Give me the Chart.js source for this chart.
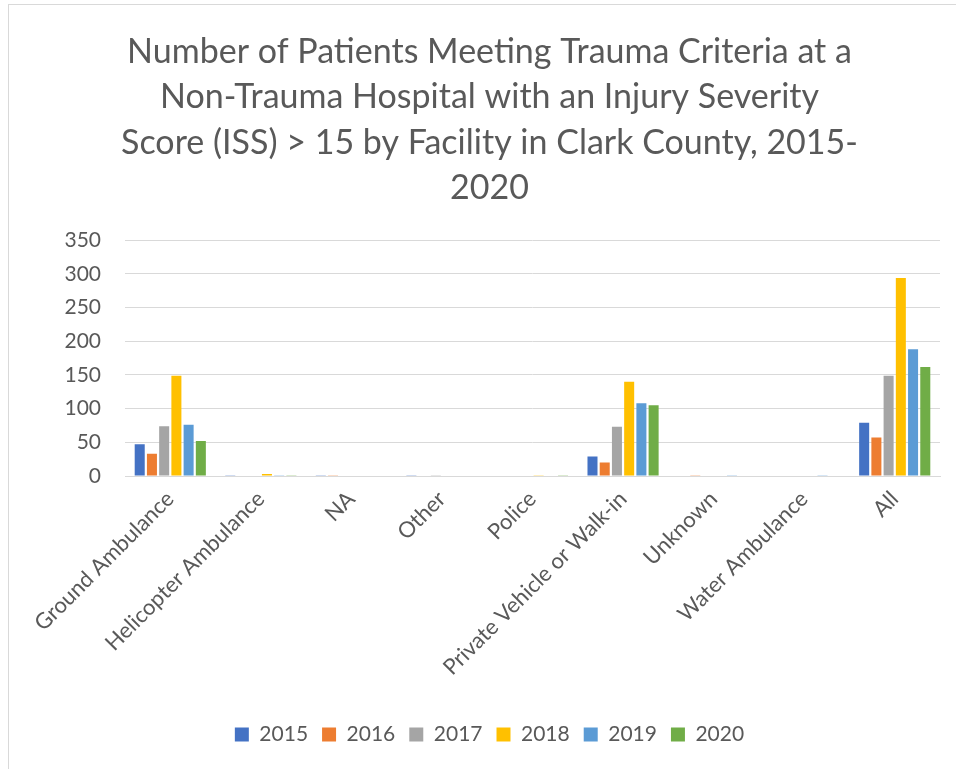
<!DOCTYPE html>
<html>
<head>
<meta charset="utf-8">
<script src="https://cdn.jsdelivr.net/npm/chart.js@4"></script>
<style>
    html, body { margin: 0; padding: 0; overflow: hidden; background: #fff; }
    .frame {
        position: absolute;
        left: 8px;
        top: 4px;
        width: 948px;
        height: 765px;
        border-top: 1px solid #d9d9d9;
        border-left: 1px solid #d9d9d9;
    }
    canvas { display: block; }
</style>
</head>
<body>
<div class="frame"><canvas id="chart" width="947" height="764"></canvas></div>
<script>
const categories = ['Ground Ambulance', 'Helicopter Ambulance', 'NA', 'Other', 'Police',
    'Private Vehicle or Walk-in', 'Unknown', 'Water Ambulance', 'All'];
const years = ['2015', '2016', '2017', '2018', '2019', '2020'];
const values2015 = [47, 1, 1, 1, 0, 29, 0, 0, 79];
const values2016 = [33, 0, 1, 0, 0, 20, 1, 0, 57];
const values2017 = [74, 0, 0, 1, 0, 73, 0, 0, 149];
const values2018 = [149, 3, 0, 0, 1, 140, 0, 0, 294];
const values2019 = [76, 1, 0, 0, 0, 108, 1, 1, 188];
const values2020 = [52, 1, 0, 0, 1, 105, 0, 0, 162];
const yTicks = [0, 50, 100, 150, 200, 250, 300, 350];

const seriesValues = [values2015, values2016, values2017, values2018, values2019, values2020];
const colors = ['#4472C4', '#ED7D31', '#A5A5A5', '#FFC000', '#5B9BD5', '#70AD47'];
const textColor = '#595959';
const fontFamily = 'Lato, "Open Sans", sans-serif';

const datasets = years.map((year, i) => ({
    label: year,
    data: seriesValues[i],
    backgroundColor: colors[i],
    borderWidth: 0,
    categoryPercentage: 0.81,
    barPercentage: 0.82,
}));

new Chart(document.getElementById('chart'), {
    type: 'bar',
    data: { labels: categories, datasets },
    options: {
        responsive: false,
        animation: false,
        layout: { padding: { left: 30, right: 16, top: 0, bottom: 14 } },
        plugins: {
            title: {
                display: true,
                text: [
                    'Number of Patients Meeting Trauma Criteria at a',
                    'Non-Trauma Hospital with an Injury Severity',
                    'Score (ISS) > 15 by Facility in Clark County, 2015-',
                    '2020',
                ],
                color: textColor,
                font: { family: fontFamily, size: 34, weight: 'normal', lineHeight: 1.34 },
                padding: { top: 24, bottom: 29 },
            },
            legend: {
                position: 'bottom',
                labels: {
                    color: textColor,
                    boxWidth: 14,
                    boxHeight: 14,
                    padding: 14,
                    font: { family: fontFamily, size: 21 },
                },
            },
            tooltip: { enabled: false },
        },
        scales: {
            x: {
                afterFit: (scale) => { scale.height = 234; },
                grid: { display: false },
                border: { color: '#d9d9d9', width: 1 },
                ticks: {
                    color: textColor,
                    minRotation: 45,
                    maxRotation: 45,
                    padding: 2,
                    font: { family: fontFamily, size: 22 },
                },
            },
            y: {
                min: 0,
                max: 350,
                afterFit: (scale) => { scale.width = 86; },
                afterBuildTicks: (scale) => { scale.ticks = yTicks.map((v) => ({ value: v })); },
                grid: { color: '#d9d9d9', lineWidth: 1, drawTicks: false },
                border: { display: false },
                ticks: {
                    color: textColor,
                    padding: 24,
                    font: { family: fontFamily, size: 21 },
                },
            },
        },
    },
});
</script>
</body>
</html>
